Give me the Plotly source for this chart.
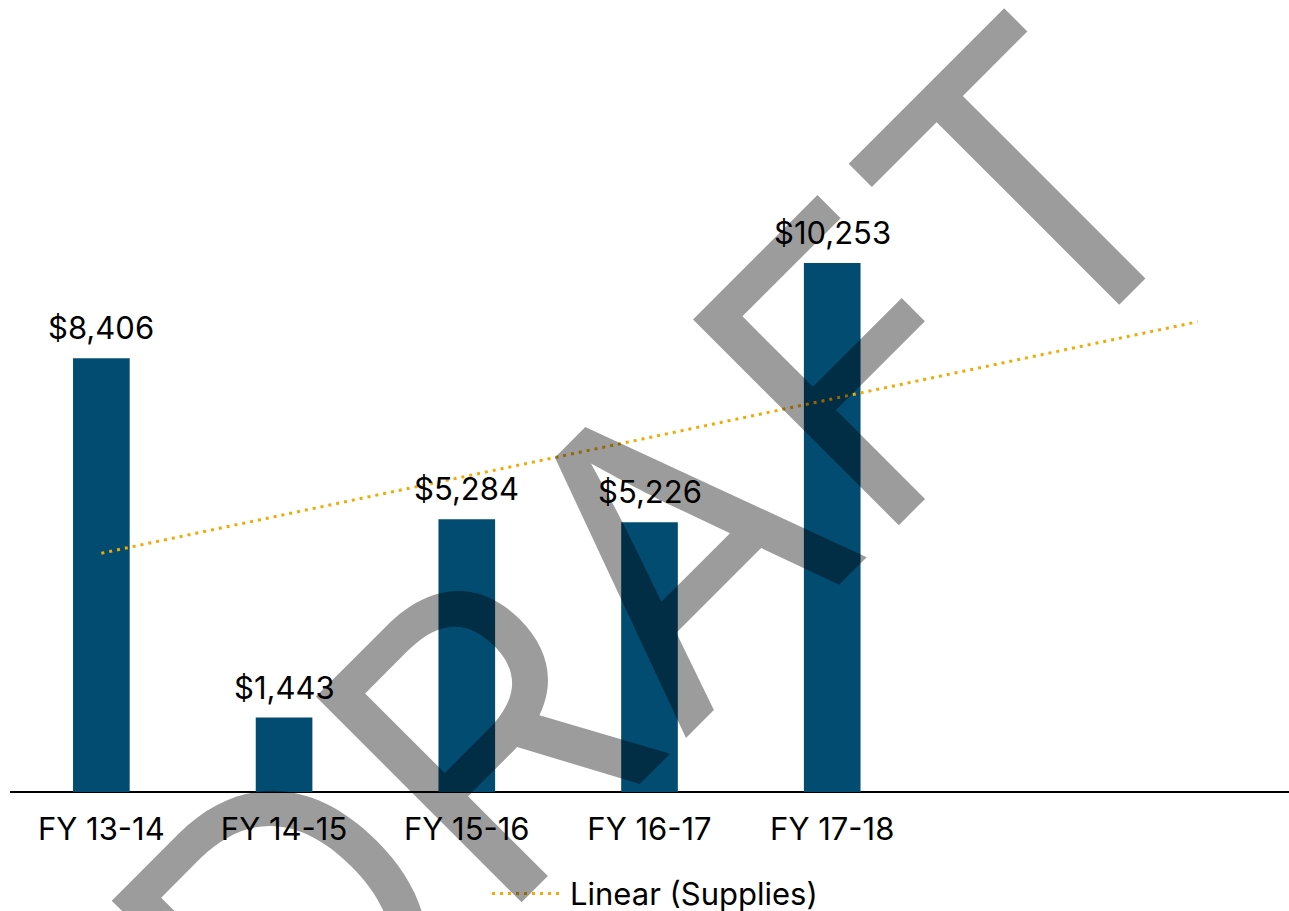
import numpy as np
import plotly.graph_objects as go

# Fiscal-year supplies spending
years = ["FY 13-14", "FY 14-15", "FY 15-16", "FY 16-17", "FY 17-18"]
supplies = [8406, 1443, 5284, 5226, 10253]
forecast_periods = 2  # trendline extended two periods forward
trend_label = "Linear (Supplies)"

bar_color = "#034C71"
trend_color = "#F2A900"
font_family = "Inter, Lato, sans-serif"
font_size = 31

x_idx = np.arange(len(years))
slope, intercept = np.polyfit(x_idx, supplies, 1)
trend_x = np.arange(len(years) + forecast_periods)
trend_y = intercept + slope * trend_x

fig = go.Figure()

fig.add_trace(go.Bar(
    x=x_idx,
    y=supplies,
    width=0.31,
    marker=dict(color=bar_color, line=dict(width=0)),
    showlegend=False,
    name="Supplies",
))

# Value labels above each bar
for xi, v in zip(x_idx, supplies):
    fig.add_annotation(
        x=xi, y=v,
        xref="x", yref="y",
        text=f"${v:,}",
        xanchor="center", yanchor="bottom",
        yshift=10,
        showarrow=False,
        font=dict(family=font_family, size=font_size, color="#000000"),
    )

trend_line = dict(color=trend_color, width=3, dash="3px,5px")

fig.add_trace(go.Scatter(
    x=trend_x,
    y=trend_y,
    mode="lines",
    line=trend_line,
    name=trend_label,
    showlegend=False,
))

# Legend entry for the trendline, drawn below the axis
fig.add_shape(
    type="line",
    xref="paper", yref="paper",
    x0=(492 - 10) / 1279, x1=(560 - 10) / 1279,
    y0=-0.131, y1=-0.131,
    line=trend_line,
)
fig.add_annotation(
    text=trend_label,
    xref="paper", yref="paper",
    x=(568 - 10) / 1279, y=-0.131,
    xanchor="left", yanchor="middle",
    showarrow=False,
    font=dict(family=font_family, size=font_size, color="#000000"),
)

# Diagonal watermark
fig.add_annotation(
    text="DRAFT",
    xref="paper", yref="paper",
    x=0.504, y=0.2955,
    xanchor="center", yanchor="middle",
    textangle=-45,
    showarrow=False,
    font=dict(family=font_family, size=400, color="rgba(0,0,0,0.39)"),
)

fig.update_layout(
    width=1289,
    height=911,
    margin=dict(l=10, r=0, t=18, b=119),
    paper_bgcolor="white",
    plot_bgcolor="white",
    font=dict(family=font_family, size=font_size, color="#000000"),
    bargap=0.69,
    showlegend=False,
    xaxis=dict(
        range=[-0.5, 6.5],
        tickmode="array",
        tickvals=list(x_idx),
        ticktext=years,
        showgrid=False,
        zeroline=False,
        showline=False,
        ticks="",
        ticklabelstandoff=16,
        tickfont=dict(family=font_family, size=font_size, color="#000000"),
        fixedrange=True,
    ),
    yaxis=dict(
        range=[0, 15000],
        visible=True,
        showgrid=False,
        zeroline=True,
        zerolinecolor="#000000",
        zerolinewidth=2,
        showticklabels=False,
        showline=False,
        ticks="",
        fixedrange=True,
    ),
)

fig.write_html("out.html")
